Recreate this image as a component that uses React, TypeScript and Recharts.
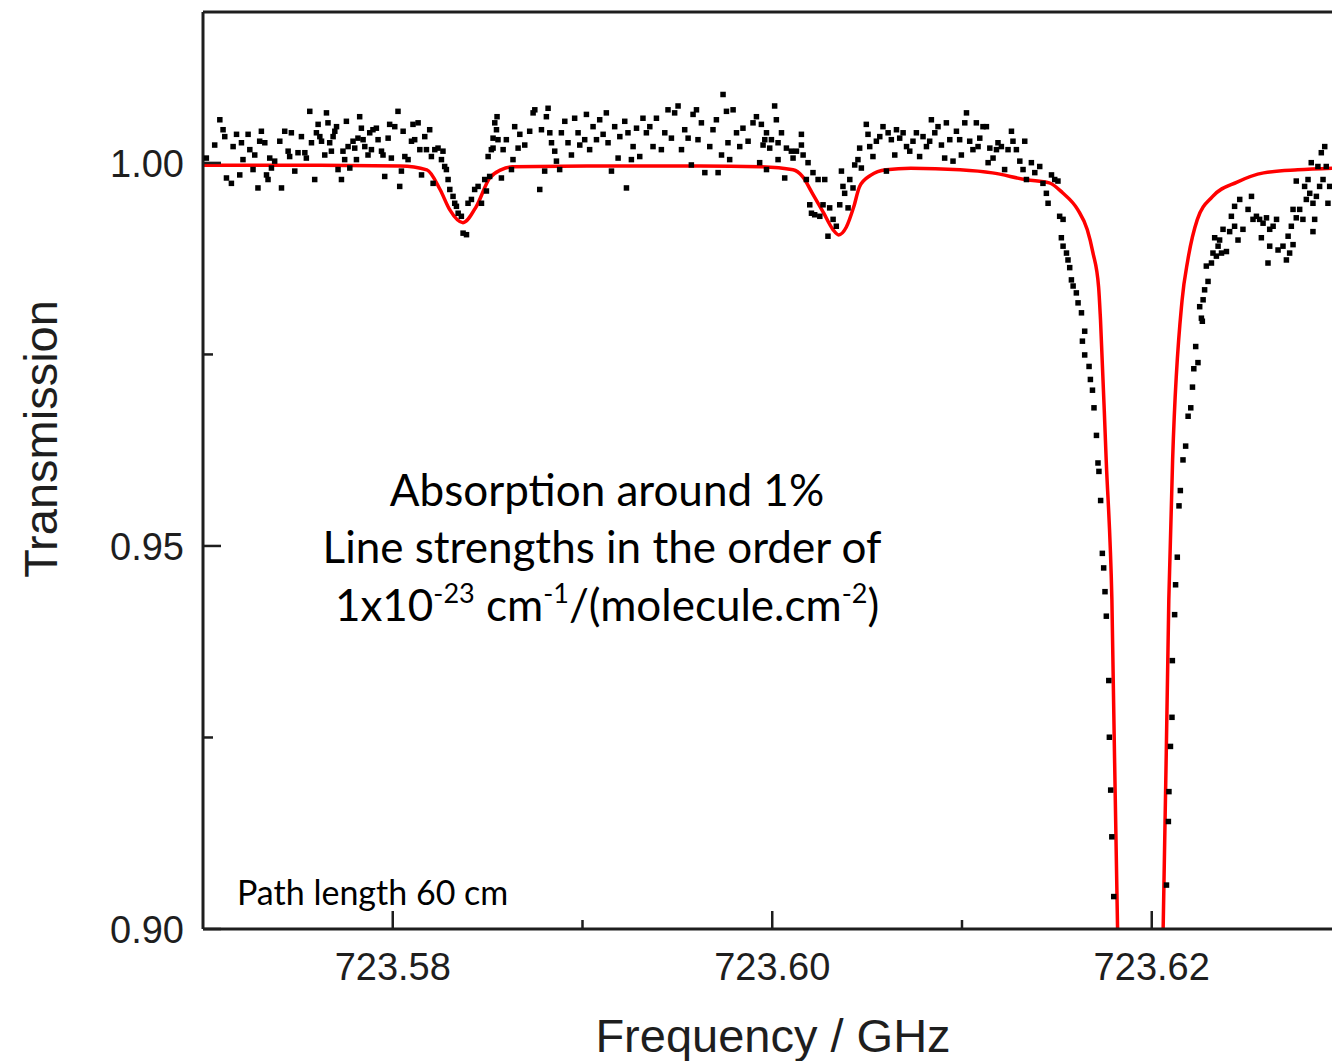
import { ComposedChart, Line, ReferenceLine, Scatter, XAxis, YAxis } from 'recharts';

// measured transmission, [frequency GHz, transmission]
const scanLeft: [number, number][] = [
  [723.57019, 1.0006], [723.57063, 1.0023], [723.5709, 1.0056], [723.57107, 1.0043], [723.57116, 1.0034],
  [723.57125, 0.998], [723.57151, 0.9973], [723.5716, 1.0021], [723.57178, 1.0037], [723.57195, 0.9984],
  [723.57204, 1.0026], [723.57212, 1.0004], [723.57239, 1.0037], [723.57248, 1.0017], [723.57265, 0.9991],
  [723.57274, 1.001], [723.57291, 0.9967], [723.573, 1.0028], [723.57309, 1.0041], [723.57327, 1.0026],
  [723.57336, 0.9984], [723.57344, 0.9978], [723.57353, 1.0006], [723.57362, 0.9993], [723.57379, 1.0002],
  [723.57406, 1.0028], [723.57415, 0.9967], [723.57432, 1.0041], [723.5745, 1.0015], [723.57458, 1.0008],
  [723.57467, 1.0039], [723.57485, 0.9989], [723.57502, 1.0013], [723.5752, 1.0034], [723.57538, 1.0013],
  [723.57546, 1.0006], [723.57564, 1.0067], [723.57573, 1.0026], [723.5759, 0.9978], [723.57599, 1.0039],
  [723.57608, 1.005], [723.57617, 1.0034], [723.57626, 1.0028], [723.57643, 1.001], [723.57652, 1.0065],
  [723.5766, 1.0052], [723.57669, 1.0026], [723.57678, 1.0015], [723.57687, 1.0034], [723.57696, 1.0041],
  [723.57705, 1.0047], [723.57713, 0.9991], [723.57731, 0.9978], [723.57739, 1.0015], [723.57748, 1.0004],
  [723.57757, 1.0054], [723.57766, 1.0021], [723.57775, 0.9993], [723.57792, 1.0028], [723.57801, 1.0019],
  [723.5781, 1.0004], [723.57818, 1.0032], [723.57827, 1.006], [723.57836, 1.0045], [723.57845, 1.003],
  [723.57854, 1.0021], [723.57871, 1.001], [723.5788, 1.0039], [723.57889, 1.0017], [723.57897, 1.0043],
  [723.57915, 1.0045], [723.57924, 1.003], [723.57942, 1.0015], [723.5795, 1.001], [723.57959, 0.9982],
  [723.57977, 1.0032], [723.57985, 1.005], [723.57994, 1.0006], [723.58012, 1.0047], [723.58029, 1.0067],
  [723.58038, 0.9969], [723.58047, 0.9989], [723.58056, 1.0041], [723.58065, 1.0008], [723.58082, 1.0004],
  [723.581, 1.0028], [723.58108, 1.005], [723.58117, 1.003], [723.58135, 1.0052], [723.58144, 1.0017],
  [723.58153, 0.9984], [723.5817, 1.0034], [723.58179, 1.0017], [723.58196, 1.0043], [723.58205, 1.0008],
  [723.58214, 0.9973], [723.58223, 1.0017], [723.5824, 1.0019], [723.58258, 1.0004], [723.58266, 1.0015],
  [723.58275, 0.9995], [723.58284, 0.9991], [723.58293, 0.9978], [723.58302, 0.9965], [723.58319, 0.9956],
  [723.58328, 0.9947], [723.58337, 0.9943], [723.58346, 0.9934], [723.58363, 0.993], [723.58372, 0.9908],
  [723.5839, 0.9906], [723.58398, 0.9947], [723.58416, 0.9952], [723.58433, 0.9965], [723.58451, 0.9969],
  [723.58469, 0.9947], [723.58486, 0.9978], [723.58504, 1.0008], [723.58521, 1.0017], [723.5853, 1.0032],
  [723.58548, 1.0043], [723.58551, 1.006],
];

const scanMid: [number, number][] = [
  [723.58495, 0.9963], [723.58512, 0.9982], [723.5853, 1.0019], [723.58539, 1.0052], [723.58556, 1.003],
  [723.58574, 0.998], [723.58583, 1.0017], [723.586, 1.003], [723.58627, 0.9991], [723.58635, 1.0004],
  [723.58644, 1.0047], [723.58662, 1.0019], [723.58671, 1.0037], [723.58697, 1.0023], [723.58723, 1.0041],
  [723.58741, 1.0065], [723.5875, 1.0069], [723.58776, 0.9965], [723.58785, 1.0043], [723.58802, 0.9989],
  [723.58811, 1.006], [723.5882, 1.0071], [723.58829, 1.0039], [723.58838, 1.0026], [723.58855, 1.0015],
  [723.58864, 1.0002], [723.58881, 0.9991], [723.5889, 1.0039], [723.58908, 1.0054], [723.58925, 1.0026],
  [723.58943, 1.001], [723.5896, 1.0058], [723.58978, 1.0039], [723.58987, 1.0023], [723.59013, 1.003],
  [723.59022, 1.0063], [723.59039, 1.0017], [723.59057, 1.0047], [723.59075, 1.003], [723.59092, 1.0056],
  [723.5911, 1.0037], [723.59127, 1.0065], [723.59136, 1.0026], [723.59154, 0.9989], [723.59171, 1.0047],
  [723.59189, 1.0006], [723.59198, 1.0034], [723.59224, 1.0054], [723.59233, 0.9967], [723.59241, 1.0039],
  [723.59259, 1.0004], [723.59268, 1.0021], [723.59286, 1.0045], [723.59303, 1.0008], [723.5932, 1.0058],
  [723.59338, 1.0039], [723.59356, 1.0047], [723.59373, 1.0021], [723.59391, 1.0058], [723.59417, 1.0017],
  [723.59435, 1.0039], [723.59452, 1.0069], [723.5947, 1.0032], [723.59487, 1.0065], [723.59505, 1.0074],
  [723.59523, 1.0017], [723.5954, 1.0043], [723.59558, 1.0032], [723.59575, 0.9997], [723.59584, 1.0063],
  [723.59602, 1.0069], [723.5961, 1.003], [723.59628, 1.0052], [723.59646, 0.9987], [723.59672, 1.0021],
  [723.59689, 1.0043], [723.59707, 1.0056], [723.59716, 0.9987], [723.59734, 1.001], [723.59742, 1.0089],
  [723.5976, 1.0067], [723.59768, 1.0026], [723.59777, 1.0004], [723.59795, 1.0069], [723.59813, 1.0039],
  [723.5983, 1.0021], [723.59847, 1.0045], [723.59874, 1.0028], [723.599, 1.0052], [723.59918, 1.006],
  [723.59935, 1.0], [723.59962, 1.003], [723.59971, 0.9991], [723.59988, 1.0019], [723.60014, 1.0074],
  [723.60023, 1.0056], [723.60032, 1.0004],
];

const scanDip: [number, number][] = [
  [723.59944, 1.005], [723.59953, 1.0023], [723.59971, 1.0039], [723.59997, 1.003], [723.60032, 1.0026],
  [723.6005, 1.0039], [723.60067, 0.998], [723.60076, 1.0019], [723.60102, 1.0015], [723.60111, 1.0006],
  [723.60129, 1.0015], [723.60155, 1.0037], [723.60155, 1.0023], [723.60164, 1.001], [723.60181, 0.9978],
  [723.6019, 1.0], [723.60199, 0.9945], [723.60208, 0.9934], [723.60216, 0.9987], [723.60225, 0.9932],
  [723.60243, 0.9978], [723.60252, 0.993], [723.60269, 0.9945], [723.60278, 0.9978], [723.60295, 0.9904],
  [723.60304, 0.9941], [723.60322, 0.9926], [723.60339, 0.9917], [723.60357, 0.9945], [723.60366, 0.9989],
  [723.60374, 0.9969], [723.60383, 0.996], [723.60401, 0.9941], [723.6041, 0.9978], [723.60427, 0.9967],
  [723.60436, 0.9997], [723.60453, 1.0004], [723.60462, 1.0019], [723.60471, 0.9993], [723.60497, 1.005],
  [723.60506, 1.0037], [723.60515, 1.0021], [723.60532, 1.0008], [723.6055, 1.0028], [723.60568, 1.0034],
  [723.60585, 1.0047], [723.60603, 0.9989], [723.60612, 1.0039], [723.60629, 1.003], [723.60647, 1.001],
  [723.60656, 1.0043], [723.60673, 1.0032], [723.60691, 1.0039], [723.60709, 1.0021], [723.60726, 1.0015],
  [723.60743, 1.0028], [723.60761, 1.0039], [723.60778, 1.0008], [723.60796, 1.0034], [723.60814, 1.0021],
  [723.60831, 1.0028], [723.6084, 1.0056], [723.60858, 1.0039], [723.60875, 1.0047], [723.60893, 1.0023],
  [723.6091, 1.0006], [723.60919, 1.0052], [723.60937, 1.003], [723.60954, 1.0002], [723.60972, 1.0041],
  [723.60989, 1.003], [723.60998, 1.001], [723.61016, 1.0052], [723.61025, 1.0065], [723.61042, 1.0028],
  [723.61059, 1.0017], [723.61077, 1.0052], [723.61086, 1.0021], [723.61095, 1.0032], [723.61112, 1.0047],
  [723.6113, 1.0047], [723.61139, 1.0], [723.61148, 1.0019], [723.61165, 1.0006], [723.61183, 1.0017],
  [723.61191, 1.0026], [723.61209, 1.0021], [723.61226, 0.9991], [723.61244, 1.0017], [723.61262, 1.0041],
  [723.6127, 1.0028], [723.61288, 1.0017], [723.61306, 1.0002], [723.61323, 0.9991], [723.61332, 1.0028],
  [723.61341, 0.9978],
];

const scanMainLeft: [number, number][] = [
  [723.61367, 1.0], [723.61385, 0.9987], [723.61411, 0.9995], [723.61428, 0.9973], [723.61446, 0.996],
  [723.61455, 0.9947], [723.61473, 0.9984], [723.6149, 0.9978], [723.61507, 0.9976], [723.61516, 0.993],
  [723.61534, 0.9926], [723.61525, 0.9902], [723.61534, 0.9891], [723.61552, 0.9882], [723.6156, 0.9873],
  [723.61569, 0.9863], [723.61578, 0.9847], [723.61587, 0.9839], [723.61604, 0.983], [723.61613, 0.9817],
  [723.61631, 0.9804], [723.61648, 0.978], [723.61636, 0.9767], [723.61648, 0.9749], [723.61671, 0.9734],
  [723.61678, 0.9717], [723.61689, 0.9703], [723.61697, 0.968], [723.6171, 0.9644], [723.61718, 0.9608],
  [723.61723, 0.9597], [723.61732, 0.9559], [723.61741, 0.949], [723.61748, 0.9471], [723.61755, 0.944],
  [723.61762, 0.9408], [723.61775, 0.9324], [723.61778, 0.925], [723.61785, 0.9181], [723.61791, 0.912],
  [723.61801, 0.9042],
];

const scanMainRight: [number, number][] = [
  [723.62079, 0.9057], [723.62089, 0.914], [723.62092, 0.9179], [723.621, 0.9238], [723.62108, 0.9276],
  [723.6211, 0.935], [723.62122, 0.941], [723.62127, 0.9449], [723.62136, 0.9485], [723.62145, 0.9552],
  [723.62152, 0.9572], [723.62166, 0.9612], [723.6218, 0.963], [723.62193, 0.9669], [723.62207, 0.968],
  [723.62216, 0.9707], [723.62223, 0.9731], [723.62245, 0.9739], [723.62233, 0.976], [723.62268, 0.9793],
  [723.62263, 0.9797], [723.62254, 0.9812], [723.62272, 0.9821], [723.6228, 0.9834], [723.62298, 0.9845],
  [723.62289, 0.9865], [723.62316, 0.9869], [723.62324, 0.9882], [723.62342, 0.9878], [723.62351, 0.9891],
  [723.62369, 0.9882], [723.62395, 0.9884], [723.62333, 0.9902], [723.62359, 0.9899], [723.62377, 0.9913],
  [723.62412, 0.991], [723.62438, 0.9917], [723.62456, 0.9899], [723.62482, 0.9913], [723.62421, 0.993],
  [723.62438, 0.9943], [723.62465, 0.9952], [723.62509, 0.9939], [723.62527, 0.9956], [723.62535, 0.9926],
  [723.62553, 0.993], [723.6257, 0.9926], [723.62588, 0.9921], [723.62606, 0.9928], [723.62623, 0.9913],
  [723.62579, 0.9902], [723.62641, 0.9917], [723.62659, 0.9926], [723.62623, 0.9891], [723.62667, 0.9886],
  [723.62693, 0.9891], [723.62614, 0.9869], [723.62711, 0.9873], [723.62728, 0.9882], [723.62746, 0.9893],
  [723.6272, 0.9904], [723.62737, 0.9917], [723.62763, 0.9928], [723.62781, 0.9939], [723.62746, 0.9939],
  [723.62798, 0.9926], [723.62816, 0.9952], [723.62834, 0.996], [723.62807, 0.9969], [723.62825, 0.9978],
  [723.62763, 0.9976], [723.62851, 0.9947], [723.6286, 0.9926], [723.62851, 0.991], [723.62869, 0.9956],
  [723.62886, 0.9969], [723.62904, 0.9978], [723.62921, 0.9995], [723.62895, 1.0013], [723.62913, 1.0021],
  [723.6293, 0.9947], [723.62939, 0.9969], [723.62877, 0.9995], [723.62842, 1.0],
];

// fitted line profile (red)
const fitCurve: [number, number][] = [
  [723.57, 0.9997], [723.5751, 0.9997], [723.5804, 0.9996], [723.5818, 0.9991], [723.5825, 0.9965],
  [723.583, 0.9939], [723.5837, 0.9922], [723.5844, 0.9943], [723.5851, 0.998], [723.5857, 0.9991],
  [723.5863, 0.9995], [723.5909, 0.9996], [723.5962, 0.9996], [723.5994, 0.9995], [723.6011, 0.9991],
  [723.6016, 0.9982], [723.6021, 0.9961], [723.6027, 0.9935], [723.6032, 0.9913], [723.6035, 0.9906],
  [723.6039, 0.9916], [723.6043, 0.9943], [723.6046, 0.9969], [723.6052, 0.9984], [723.606, 0.9991],
  [723.6073, 0.9993], [723.6099, 0.9991], [723.6116, 0.9987], [723.6134, 0.9978], [723.6146, 0.9974],
  [723.6153, 0.9961], [723.6161, 0.9939], [723.6166, 0.9913], [723.6169, 0.9883], [723.6172, 0.9838],
  [723.6173, 0.9795], [723.6176, 0.9612], [723.6179, 0.943], [723.6182, 0.8999], [723.6194, 0.85],
  [723.6206, 0.8999], [723.6209, 0.943], [723.6211, 0.9612], [723.6216, 0.9821], [723.6219, 0.9873],
  [723.6224, 0.9926], [723.6232, 0.9956], [723.6245, 0.9975], [723.6259, 0.9987], [723.6277, 0.9991],
  [723.6295, 0.9993],
];

const xTicks = [723.58, 723.59, 723.6, 723.61, 723.62];
const xLabelled = [723.58, 723.6, 723.62];
const yTicks = [0.9, 0.925, 0.95, 0.975, 1.0];
const yLabelled = [0.9, 0.95, 1.0];

const toPoints = (rows: [number, number][]) => rows.map(([f, t]) => ({ f, t }));
const measured = toPoints([...scanLeft, ...scanMid, ...scanDip, ...scanMainLeft, ...scanMainRight]);
const fitted = toPoints(fitCurve);

const AXIS = '#1e1e1e';
const SANS = '"Liberation Sans", Arial, sans-serif';
const NOTE = 'Lato, "Open Sans", sans-serif';

const isOneOf = (v: number, list: number[]) => list.some((l) => Math.abs(l - v) < 1e-9);

const XTick = ({ x, y, payload }: any) => {
  const major = isOneOf(payload.value, xLabelled);
  return (
    <g>
      <line x1={x} x2={x} y1={y} y2={y - (major ? 18 : 9)} stroke={AXIS} strokeWidth={2.5} />
      {major && (
        <text x={x} y={y + 51} textAnchor="middle" fontSize={38} fontFamily={SANS} fill={AXIS}>
          {payload.value.toFixed(2)}
        </text>
      )}
    </g>
  );
};

const YTick = ({ x, y, payload }: any) => {
  const major = isOneOf(payload.value, yLabelled);
  return (
    <g>
      <line x1={x} x2={x + (major ? 18 : 10)} y1={y} y2={y} stroke={AXIS} strokeWidth={2.5} />
      {major && (
        <text x={x - 19} y={y + 14} textAnchor="end" fontSize={38} fontFamily={SANS} fill={AXIS}>
          {payload.value.toFixed(2)}
        </text>
      )}
    </g>
  );
};

const Square = ({ cx, cy }: any) => <rect x={cx - 3} y={cy - 3} width={5.5} height={5.5} fill="#000" />;

export default function App() {
  return (
    <div style={{ position: 'absolute', left: 0, top: 0, width: 1332, height: 1061, overflow: 'hidden', background: '#fff' }}>
      <ComposedChart width={1332} height={1061} margin={{ top: 12, right: 0, bottom: 0, left: 0 }}>
        <XAxis
          type="number"
          dataKey="f"
          domain={[723.57, 723.6295]}
          allowDataOverflow
          ticks={xTicks}
          interval={0}
          height={132}
          tickSize={0}
          tickMargin={0}
          tickLine={false}
          axisLine={{ stroke: AXIS, strokeWidth: 3 }}
          tick={<XTick />}
        />
        <YAxis
          type="number"
          dataKey="t"
          domain={[0.9, 1.0197]}
          allowDataOverflow
          ticks={yTicks}
          interval={0}
          width={203}
          tickSize={0}
          tickMargin={0}
          tickLine={false}
          axisLine={{ stroke: AXIS, strokeWidth: 3 }}
          tick={<YTick />}
        />
        <ReferenceLine y={1.0197} stroke={AXIS} strokeWidth={3} />
        <Scatter data={measured} dataKey="t" shape={<Square />} isAnimationActive={false} />
        <Line
          data={fitted}
          dataKey="t"
          type="monotone"
          stroke="#ff0000"
          strokeWidth={3.5}
          dot={false}
          isAnimationActive={false}
        />
      </ComposedChart>
      <svg width={1332} height={1061} style={{ position: 'absolute', left: 0, top: 0, pointerEvents: 'none' }}>
        <text x={40 + 17} y={439} transform="rotate(-90 57 439)" textAnchor="middle" fontSize={47} fontFamily={SANS} fill={AXIS}>
          Transmission
        </text>
        <text x={773} y={1052} textAnchor="middle" fontSize={47} fontFamily={SANS} fill={AXIS}>
          Frequency / GHz
        </text>
        <g fontFamily={NOTE} fontSize={44} fill="#000" textAnchor="middle">
          <text x={607} y={506}>Absorption around 1%</text>
          <text x={602} y={563}>Line strengths in the order of</text>
          <text x={607} y={621}>
            1x10
            <tspan fontSize={27} dy={-18}>-23</tspan>
            <tspan dy={18}> cm</tspan>
            <tspan fontSize={27} dy={-18}>-1</tspan>
            <tspan dy={18}>/(molecule.cm</tspan>
            <tspan fontSize={27} dy={-18}>-2</tspan>
            <tspan dy={18}>)</tspan>
          </text>
        </g>
        <text x={237} y={905} fontFamily={NOTE} fontSize={34} fill="#000">
          Path length 60 cm
        </text>
      </svg>
    </div>
  );
}
